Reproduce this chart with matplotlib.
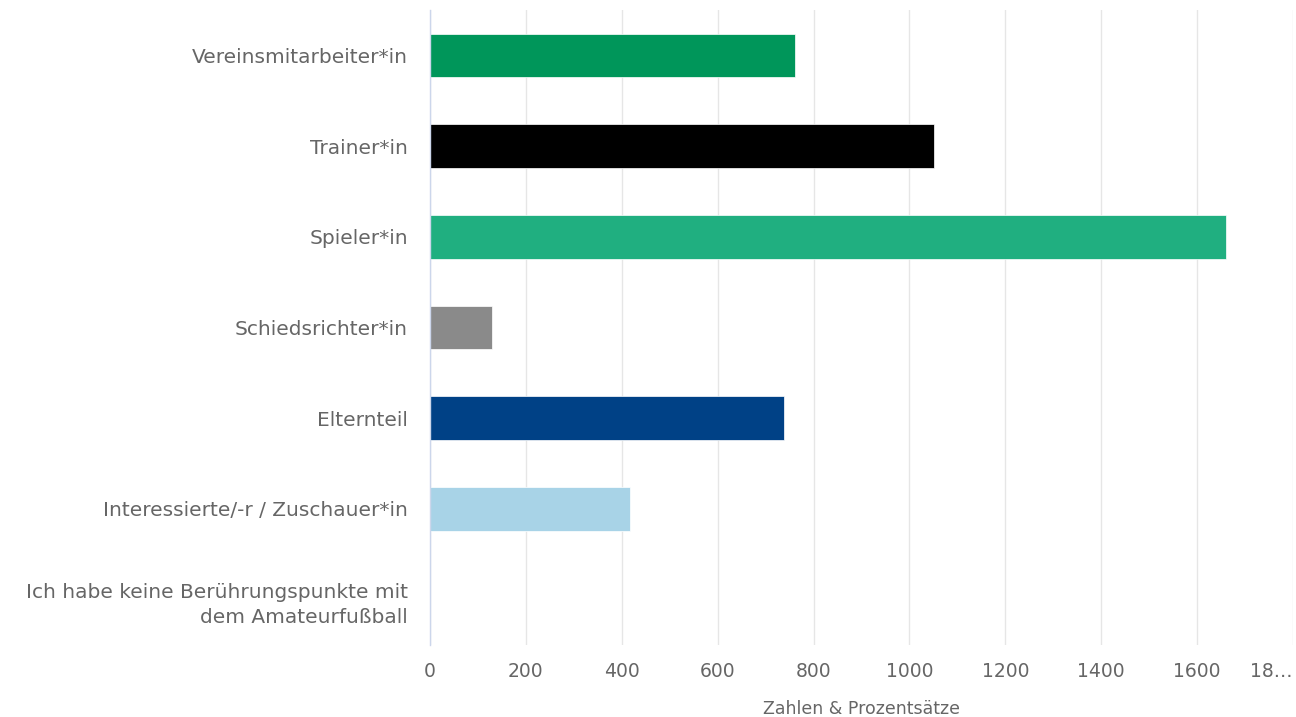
import matplotlib
matplotlib.use("Agg")
import matplotlib.pyplot as plt

# Daten
categories = [
    "Vereinsmitarbeiter*in",
    "Trainer*in",
    "Spieler*in",
    "Schiedsrichter*in",
    "Elternteil",
    "Interessierte/-r / Zuschauer*in",
    "Ich habe keine Berührungspunkte mit\ndem Amateurfußball",
]
values = [761, 1051, 1661, 129, 738, 417, 0]
colors = ["#00965a", "#000000", "#20af80", "#8a8a8a", "#004186", "#a8d3e7", "#cccccc"]
x_ticks = [0, 200, 400, 600, 800, 1000, 1200, 1400, 1600, 1800]
x_ticklabels = ["0", "200", "400", "600", "800", "1000", "1200", "1400", "1600", "18…"]

TEXT = "#666666"
plt.rcParams["font.family"] = ["DejaVu Sans"]

fig = plt.figure(figsize=(12.96, 7.17), dpi=100)
ax = fig.add_axes([430 / 1296, 1 - 645 / 717, 863 / 1296, 635 / 717])

ypos = list(range(len(categories)))
ax.barh(ypos, values, height=0.48, color=colors, edgecolor="white", linewidth=0.5, zorder=3)

ax.set_ylim(len(categories) - 0.5, -0.5)
ax.set_xlim(0, 1800)
ax.set_yticks(ypos)
ax.set_yticklabels(categories, fontsize=14.5, color=TEXT, ha="right", linespacing=1.45)
ax.set_xticks(x_ticks)
ax.set_xticklabels(x_ticklabels, fontsize=13.5, color=TEXT)
ax.get_xticklabels()[-1].set_ha("right")
ax.tick_params(axis="y", length=0, pad=16)
ax.tick_params(axis="x", length=0, pad=12)
ax.set_xlabel("Zahlen & Prozentsätze", fontsize=12.5, color=TEXT, labelpad=14)

ax.grid(axis="x", color="#e6e6e6", linewidth=1, zorder=0)
for side in ["top", "right", "bottom"]:
    ax.spines[side].set_visible(False)
ax.spines["left"].set_color("#ccd6eb")
ax.spines["left"].set_linewidth(1)
ax.spines["left"].set_zorder(4)

fig.savefig("out.png", dpi=100)
